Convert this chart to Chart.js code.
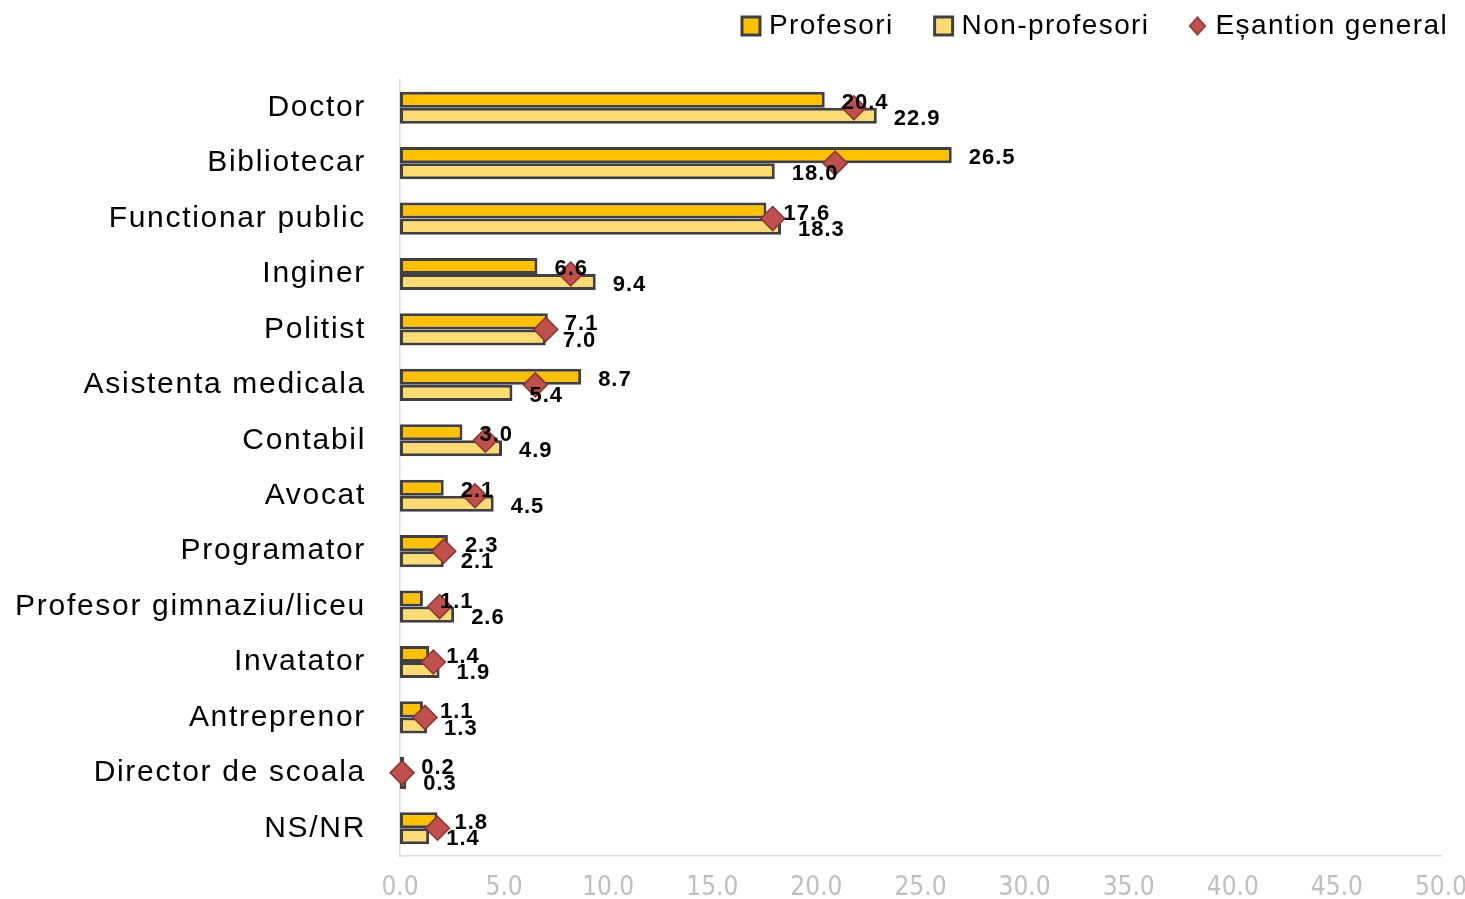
<!DOCTYPE html>
<html>
<head>
<meta charset="utf-8">
<script src="https://cdn.jsdelivr.net/npm/chart.js@4.4.0/dist/chart.umd.min.js"></script>
<style>
  html, body { margin: 0; padding: 0; background: #fff; }
  #wrap { width: 1465px; height: 899px; }
</style>
</head>
<body>
<div id="wrap"><canvas id="chart"></canvas></div>
<script>
const categories = ['Doctor', 'Bibliotecar', 'Functionar public', 'Inginer', 'Politist',
    'Asistenta medicala', 'Contabil', 'Avocat', 'Programator', 'Profesor gimnaziu/liceu',
    'Invatator', 'Antreprenor', 'Director de scoala', 'NS/NR'];
const profesori = [20.4, 26.5, 17.6, 6.6, 7.1, 8.7, 3.0, 2.1, 2.3, 1.1, 1.4, 1.1, 0.2, 1.8];
const nonProfesori = [22.9, 18.0, 18.3, 9.4, 7.0, 5.4, 4.9, 4.5, 2.1, 2.6, 1.9, 1.3, 0.3, 1.4];
const esantionGeneral = [21.8, 20.9, 17.9, 8.2, 7.0, 6.5, 4.1, 3.6, 2.1, 1.9, 1.6, 1.2, 0.1, 1.8];
const xTicks = [0, 5, 10, 15, 20, 25, 30, 35, 40, 45, 50];

const FONT = '"Liberation Sans", Arial, sans-serif';

// values printed next to each bar
const barLabels = {
    id: 'barLabels',
    afterDatasetsDraw(chart) {
        const ctx = chart.ctx;
        ctx.save();
        ctx.letterSpacing = '1px';
        ctx.font = 'bold 22px ' + FONT;
        ctx.fillStyle = '#000';
        ctx.textAlign = 'left';
        ctx.textBaseline = 'middle';
        [0, 1].forEach(di => {
            chart.getDatasetMeta(di).data.forEach((bar, i) => {
                const v = chart.data.datasets[di].data[i];
                ctx.fillText(v.toFixed(1), bar.x + 17, bar.y + 3);
            });
        });
        ctx.restore();
    }
};

// legend drawn by hand, right aligned at the top
const topLegend = {
    id: 'topLegend',
    afterDraw(chart) {
        const ctx = chart.ctx;
        const ds = chart.data.datasets;
        ctx.save();
        ctx.letterSpacing = '1.4px';
        ctx.font = '28px ' + FONT;
        ctx.textBaseline = 'middle';
        ctx.textAlign = 'left';
        const cy = 26;
        let x = 1448;
        for (let i = ds.length - 1; i >= 0; i--) {
            const w = ctx.measureText(ds[i].label).width;
            x -= w;
            ctx.fillStyle = '#000';
            ctx.fillText(ds[i].label, x, cy);
            if (ds[i].type === 'line') {
                x -= 10;
                ctx.beginPath();
                ctx.moveTo(x - 8, cy - 9);
                ctx.lineTo(x, cy);
                ctx.lineTo(x - 8, cy + 9);
                ctx.lineTo(x - 16, cy);
                ctx.closePath();
                ctx.fillStyle = ds[i].pointBackgroundColor;
                ctx.fill();
                ctx.lineWidth = 1.2;
                ctx.strokeStyle = ds[i].pointBorderColor;
                ctx.stroke();
                x -= 16;
            } else {
                x -= 8;
                ctx.fillStyle = ds[i].backgroundColor;
                ctx.fillRect(x - 19, cy - 9, 18, 18);
                ctx.lineWidth = 3;
                ctx.strokeStyle = ds[i].borderColor;
                ctx.strokeRect(x - 19, cy - 9, 18, 18);
                x -= 20;
            }
            x -= 40;
        }
        ctx.restore();
    }
};

// category names get a little letter spacing
const spacedCategories = {
    id: 'spacedCategories',
    afterLayout(chart) {
        const sy = chart.scales.y;
        if (!sy._spaced) {
            const orig = sy.drawLabels;
            sy.drawLabels = function(area) {
                this.ctx.save();
                this.ctx.letterSpacing = '1.7px';
                orig.call(this, area);
                this.ctx.restore();
            };
            sy._spaced = true;
        }
    }
};

new Chart(document.getElementById('chart'), {
    type: 'bar',
    data: {
        labels: categories,
        datasets: [{
            label: 'Profesori',
            data: profesori,
            backgroundColor: '#FFC000',
            borderColor: '#404040',
            borderWidth: 3,
            borderSkipped: false,
            order: 1
        }, {
            label: 'Non-profesori',
            data: nonProfesori,
            backgroundColor: '#FFDC73',
            borderColor: '#404040',
            borderWidth: 3,
            borderSkipped: false,
            order: 1
        }, {
            type: 'line',
            label: 'Eșantion general',
            data: esantionGeneral,
            showLine: false,
            pointStyle: 'rectRot',
            pointRadius: 12,
            pointHoverRadius: 12,
            pointBackgroundColor: '#C0504D',
            pointBorderColor: '#8A3532',
            pointBorderWidth: 1.5,
            clip: false,
            order: 0
        }]
    },
    options: {
        indexAxis: 'y',
        responsive: true,
        maintainAspectRatio: false,
        animation: false,
        events: [],
        layout: { padding: { top: 80, right: 0, bottom: 0, left: 0 } },
        datasets: {
            bar: { barPercentage: 1, categoryPercentage: 0.58 }
        },
        plugins: {
            legend: { display: false },
            tooltip: { enabled: false }
        },
        scales: {
            x: {
                min: 0,
                max: 50,
                afterBuildTicks(scale) { scale.ticks = xTicks.map(v => ({ value: v })); },
                afterFit(scale) {
                    scale.height = 43;
                    scale.paddingLeft = 0;
                    scale.paddingRight = 24;
                },
                grid: { display: false },
                border: { display: true, color: '#D9D9D9', width: 1.5 },
                ticks: {
                    color: '#BFBFBF',
                    padding: 9,
                    maxRotation: 0,
                    font: { size: 26, family: '"Liberation Sans Narrow", "DejaVu Sans Condensed", sans-serif' },
                    callback: v => Number(v).toFixed(1)
                }
            },
            y: {
                afterFit(scale) {
                    scale.width = 400;
                    scale.paddingTop = 0;
                    scale.paddingBottom = 0;
                },
                grid: { display: false },
                border: { display: true, color: '#D9D9D9', width: 1.5 },
                ticks: {
                    color: '#000',
                    padding: 26,
                    font: { size: 30, family: FONT }
                }
            }
        }
    },
    plugins: [spacedCategories, barLabels, topLegend]
});
</script>
</body>
</html>
